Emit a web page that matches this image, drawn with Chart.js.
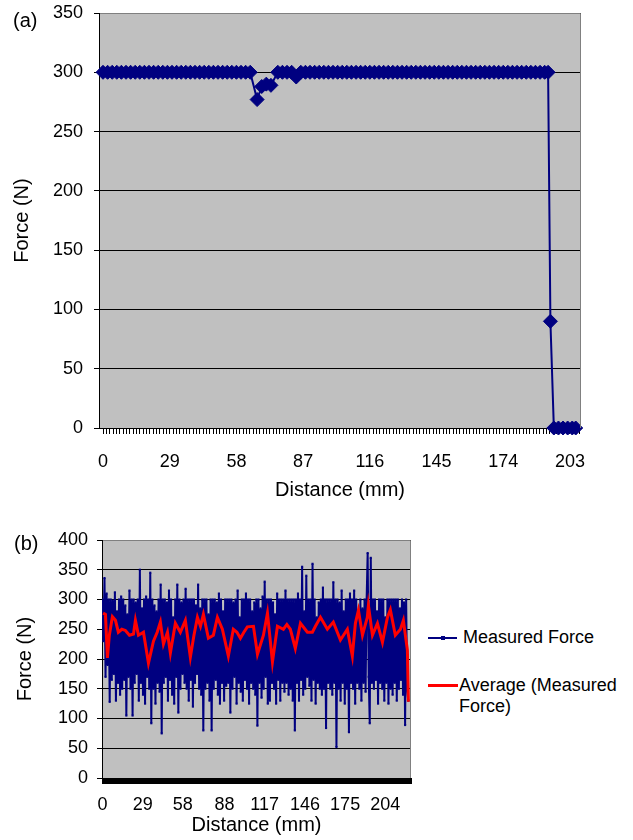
<!DOCTYPE html>
<html>
<head>
<meta charset="utf-8">
<script src="https://cdn.jsdelivr.net/npm/chart.js@4.4.0/dist/chart.umd.min.js"></script>
<style>
  body { margin: 0; background: #fff; }
  #page { position: relative; width: 633px; height: 840px; overflow: hidden;
          font-family: "Liberation Sans", Arial, sans-serif; color: #000; }
  canvas { position: absolute; left: 0; }
  .tag { position: absolute; font-size: 20px; line-height: 24px; }
  .key { position: absolute; font-size: 18px; line-height: 21px; white-space: nowrap; }
  .swatch { position: absolute; }
</style>
</head>
<body>
<div id="page">
  <canvas id="chartA" width="633" height="505" style="top:0"></canvas>
  <canvas id="chartB" width="425" height="325" style="top:515px"></canvas>
  <div class="tag" style="left:13px; top:8px">(a)</div>
  <div class="tag" style="left:14px; top:531px">(b)</div>

  <div class="swatch" style="left:428px; top:637px; width:29px; height:2px; background:#000080"></div>
  <div class="swatch" style="left:441px; top:636px; width:4px; height:4px; background:#000080"></div>
  <div class="key" style="left:463px; top:627px">Measured Force</div>
  <div class="swatch" style="left:428px; top:684px; width:30px; height:3px; background:#ff0000"></div>
  <div class="key" style="left:459px; top:675px">Average (Measured<br>Force)</div>
</div>
<script>
// (a) force along the traverse, mm / N
const distA = [
  0, 2, 4, 6, 8, 10, 12, 14, 16, 18,
  20, 22, 24, 26, 28, 30, 32, 34, 36, 38,
  40, 42, 44, 46, 48, 50, 52, 54, 56, 58,
  60, 62, 64, 67, 69, 71, 73, 76, 78, 80,
  82, 84, 86, 88, 90, 92, 94, 96, 98, 100,
  102, 104, 106, 108, 110, 112, 114, 116, 118, 120,
  122, 124, 126, 128, 130, 132, 134, 136, 138, 140,
  142, 144, 146, 148, 150, 152, 154, 156, 158, 160,
  162, 164, 166, 168, 170, 172, 174, 176, 178, 180,
  182, 184, 186, 188, 190, 192, 193.5, 194.5, 196, 198,
  200, 202, 204, 205.5
];
const forceA = [
  300, 300, 300, 300, 300, 300, 300, 300, 300, 300,
  300, 300, 300, 300, 300, 300, 300, 300, 300, 300,
  300, 300, 300, 300, 300, 300, 300, 300, 300, 300,
  300, 300, 300, 277, 288, 290, 289, 300, 300, 300,
  300, 296, 300, 300, 300, 300, 300, 300, 300, 300,
  300, 300, 300, 300, 300, 300, 300, 300, 300, 300,
  300, 300, 300, 300, 300, 300, 300, 300, 300, 300,
  300, 300, 300, 300, 300, 300, 300, 300, 300, 300,
  300, 300, 300, 300, 300, 300, 300, 300, 300, 300,
  300, 300, 300, 300, 300, 300, 300, 90, 0, 0,
  0, 0, 0, 0
];
const tickLabelsA = [0, 29, 58, 87, 116, 145, 174, 203];

// (b) measured force, one reading every sampleStepB mm
const sampleStepB = 0.75;
const forceB = [
  300, 230, 336, 170, 310, 190, 300, 128, 300, 165, 298, 175, 312, 130, 280, 160, 300, 140, 305, 150,
  300, 165, 290, 105, 275, 170, 315, 150, 300, 105, 300, 160, 295, 175, 300, 130, 350, 160, 285, 140,
  300, 125, 305, 170, 300, 150, 345, 92, 300, 150, 290, 125, 280, 160, 300, 145, 325, 75, 300, 160,
  300, 170, 295, 130, 315, 165, 300, 140, 270, 125, 300, 170, 325, 110, 300, 150, 295, 175, 300, 160,
  318, 150, 300, 130, 300, 165, 300, 120, 300, 160, 290, 175, 325, 150, 285, 140, 300, 80, 300, 150,
  300, 160, 275, 130, 300, 80, 300, 150, 300, 165, 295, 140, 310, 125, 300, 160, 280, 130, 300, 155,
  300, 160, 300, 110, 300, 150, 295, 170, 300, 125, 315, 160, 270, 145, 300, 130, 300, 165, 310, 150,
  300, 125, 300, 160, 280, 150, 295, 140, 300, 88, 300, 160, 285, 135, 305, 150, 330, 170, 300, 125,
  300, 130, 300, 160, 295, 150, 275, 125, 310, 165, 300, 130, 300, 160, 300, 145, 315, 160, 300, 140,
  300, 150, 300, 130, 300, 80, 300, 160, 310, 130, 300, 165, 355, 140, 280, 150, 340, 170, 300, 155,
  300, 130, 360, 165, 300, 125, 270, 160, 295, 150, 300, 140, 320, 150, 300, 84, 300, 160, 300, 150,
  300, 140, 329, 160, 300, 52, 300, 150, 295, 130, 315, 160, 280, 125, 300, 150, 300, 77, 310, 160,
  300, 150, 315, 125, 300, 160, 275, 150, 300, 130, 285, 160, 300, 145, 300, 378, 170, 92, 370, 160,
  300, 150, 300, 165, 280, 125, 300, 160, 300, 150, 300, 130, 270, 160, 300, 125, 300, 150, 300, 140,
  300, 160, 300, 130, 300, 150, 285, 165, 300, 140, 295, 89, 300, 150, 130
];
// moving average of the measured force
const avgDistB = [
  0.5, 2.2, 3.6, 5.0, 7.2, 9.4, 11.5, 14.0, 16.6, 19.5,
  22.4, 23.8, 26.0, 29.6, 33.2, 36.8, 39.5, 41.8, 44.0, 46.9,
  49.0, 52.6, 56.2, 59.8, 63.4, 66.0, 68.5, 70.7, 72.8, 76.4,
  80.0, 82.9, 86.5, 90.8, 94.4, 97.0, 99.5, 102.0, 104.5, 108.9,
  111.8, 116.1, 119.0, 122.6, 126.2, 130.5, 133.0, 135.5, 139.1, 142.8,
  147.8, 151.4, 153.6, 157.2, 162.2, 166.5, 171.6, 176.6, 180.2, 182.4,
  184.6, 187.5, 191.0, 191.8, 194.7, 198.3, 201.9, 205.5, 207.6, 211.2,
  214.9, 217.0, 219.9, 220.6
];
const avgForceB = [
  277, 275, 202, 240, 271, 265, 245, 250, 248, 240,
  242, 265, 240, 245, 193, 230, 245, 262, 225, 245,
  210, 260, 245, 265, 203, 240, 270, 255, 275, 235,
  240, 270, 250, 205, 250, 245, 235, 245, 254, 255,
  208, 240, 277, 195, 255, 250, 258, 250, 218, 260,
  245, 245, 255, 270, 250, 262, 232, 250, 205, 260,
  282, 240, 270, 290, 240, 260, 228, 270, 283, 240,
  250, 265, 215, 128
];
const tickLabelsB = [0, 29, 58, 88, 117, 146, 175, 204];

Chart.defaults.font.family = '"Liberation Sans", Arial, sans-serif';
Chart.defaults.color = '#000';

// grey plot area with a thin grey frame on top and right, like the spreadsheet chart
const plotFrame = {
  id: 'plotFrame',
  beforeDraw: function (chart) {
    const a = chart.chartArea;
    const ctx = chart.ctx;
    ctx.save();
    ctx.fillStyle = '#c0c0c0';
    ctx.fillRect(a.left, a.top, a.right - a.left, a.bottom - a.top);
    ctx.restore();
  },
  afterDraw: function (chart) {
    const a = chart.chartArea;
    const ctx = chart.ctx;
    ctx.save();
    ctx.strokeStyle = '#808080';
    ctx.lineWidth = 1;
    ctx.beginPath();
    ctx.moveTo(a.left + 1, a.top + 0.5);
    ctx.lineTo(a.right - 0.5, a.top + 0.5);
    ctx.lineTo(a.right - 0.5, a.bottom);
    ctx.stroke();
    ctx.restore();
  }
};

// many small tick marks, only some of them labelled
function combTicks(step, to) {
  return function (axis) {
    let ticks = [];
    for (let k = 0; k * step <= to; k++) {
      ticks.push({ value: k * step });
    }
    axis.ticks = ticks;
  };
}
function labelFrom(list) {
  return function (value) {
    for (let i = 0; i < list.length; i++) {
      if (Math.abs(value - list[i]) < 0.01) return String(list[i]);
    }
    return '';
  };
}
// fixed y-axis box; don't let the label padding push the plot down
function yBox(width) {
  return function (s) {
    s.width = width;
    s.paddingTop = 11;
    s.paddingBottom = 11;
  };
}

new Chart(document.getElementById('chartA'), {
  type: 'line',
  data: {
    datasets: [{
      label: 'Force',
      data: distA.map(function (d, i) { return { x: d, y: forceA[i] }; }),
      borderColor: '#000080',
      backgroundColor: '#000080',
      borderWidth: 2,
      pointStyle: 'rectRot',
      pointRadius: 7,
      pointBorderWidth: 1,
      pointBorderColor: '#000080',
      pointBackgroundColor: '#000080',
      tension: 0,
      clip: false
    }]
  },
  options: {
    responsive: false,
    animation: false,
    events: [],
    layout: { padding: { left: 0, top: 13, right: 52, bottom: 3 } },
    plugins: { legend: { display: false }, tooltip: { enabled: false } },
    scales: {
      x: {
        type: 'linear',
        min: -1.74,
        max: 207.8,
        afterBuildTicks: combTicks(1.45, 207.8),
        afterFit: function (s) { s.height = 74; },
        ticks: { autoSkip: false, maxRotation: 0, padding: 17, font: { size: 18 }, callback: labelFrom(tickLabelsA) },
        grid: { drawOnChartArea: false, tickLength: 6, color: '#000' },
        border: { color: '#000', width: 1 },
        title: { display: true, text: 'Distance (mm)', font: { size: 20 }, padding: 0 }
      },
      y: {
        min: 0,
        max: 350,
        afterFit: yBox(99),
        ticks: { stepSize: 50, padding: 11, font: { size: 18 } },
        grid: { color: '#000', tickLength: 5 },
        border: { color: '#000', width: 1 },
        title: { display: true, text: 'Force (N)', font: { size: 20 }, padding: { top: 10, bottom: 0 } }
      }
    }
  },
  plugins: [plotFrame]
});

new Chart(document.getElementById('chartB'), {
  type: 'line',
  data: {
    datasets: [{
      label: 'Average (Measured Force)',
      data: avgDistB.map(function (d, i) { return { x: d, y: avgForceB[i] }; }),
      borderColor: '#ff0000',
      borderWidth: 3,
      pointRadius: 0,
      tension: 0,
      order: 1
    }, {
      label: 'Measured Force',
      data: forceB.map(function (f, i) { return { x: i * sampleStepB, y: f }; }),
      borderColor: '#000080',
      backgroundColor: '#000080',
      borderWidth: 2,
      pointStyle: 'rect',
      pointRadius: 1.5,
      pointBorderWidth: 0,
      pointBackgroundColor: '#000080',
      tension: 0,
      order: 2
    }]
  },
  options: {
    responsive: false,
    animation: false,
    events: [],
    layout: { padding: { left: 0, top: 25, right: 14, bottom: 3 } },
    plugins: { legend: { display: false }, tooltip: { enabled: false } },
    scales: {
      x: {
        type: 'linear',
        min: -0.3,
        max: 222.5,
        afterBuildTicks: combTicks(0.5, 222.5),
        afterFit: function (s) { s.height = 59; },
        ticks: { autoSkip: false, maxRotation: 0, padding: 10, font: { size: 18 }, callback: labelFrom(tickLabelsB) },
        grid: { drawOnChartArea: false, tickLength: 6, color: '#000' },
        border: { color: '#000', width: 1 },
        title: { display: true, text: 'Distance (mm)', font: { size: 20 }, padding: 0 }
      },
      y: {
        min: 0,
        max: 400,
        afterFit: yBox(102),
        ticks: { stepSize: 50, padding: 9, font: { size: 18 } },
        grid: { color: '#000', tickLength: 5 },
        border: { color: '#000', width: 1 },
        title: { display: true, text: 'Force (N)', font: { size: 20 }, padding: { top: 13, bottom: 0 } }
      }
    }
  },
  plugins: [plotFrame]
});
</script>
</body>
</html>
